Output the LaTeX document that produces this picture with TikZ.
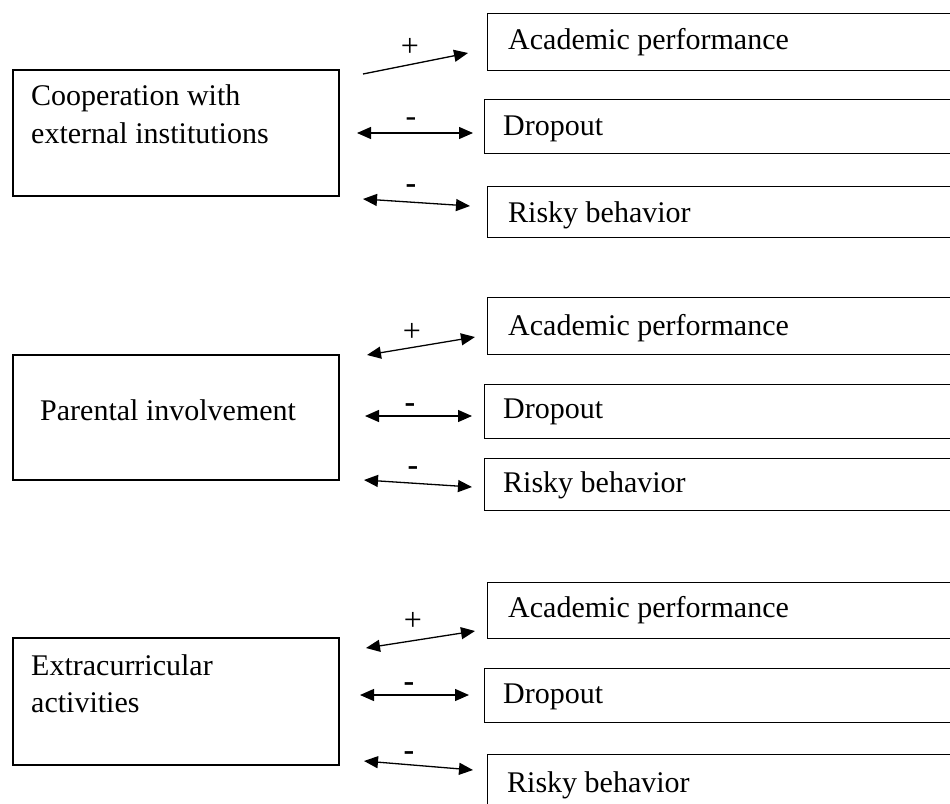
\documentclass[tikz,border=0pt]{standalone}
\usepackage{fontspec}
\setmainfont{Liberation Serif}
\usetikzlibrary{arrows.meta}
\begin{document}
\begin{tikzpicture}[x=1pt,y=-1pt,
  font=\fontsize{30}{38}\selectfont,
  lbox/.style={draw, line width=1.5pt, minimum width=326pt, minimum height=#1, anchor=north west, inner sep=0pt},
  rbox/.style={draw, line width=1.3pt, minimum width=480pt, minimum height=#1, anchor=north west, inner sep=0pt},
  txt/.style={anchor=base west, inner sep=0pt},
  sgn/.style={inner sep=0pt, font=\fontsize{32}{34}\selectfont},
  link/.style={line width=1.3pt, {Triangle[length=14pt,width=12pt]}-{Triangle[length=14pt,width=12pt]}},
  onelink/.style={line width=1.3pt, -{Triangle[length=14pt,width=12pt]}}
]
\useasboundingbox (0,0) rectangle (950,803);
\clip (0,0) rectangle (950,803);

% ---------- group 1 ----------
\node[lbox=126pt] (L1) at (12,69) {};
\node[txt] (L1a) at (31,105) {Cooperation with};
\node[txt] (L1b) at (31,143) {external institutions};

\node[rbox=57pt] (A1) at (487,13) {};
\node[txt] (A1t) at (508,49) {Academic performance};
\node[rbox=54pt] (D1) at (484,99) {};
\node[txt] (D1t) at (503,135) {Dropout};
\node[rbox=51pt] (R1) at (487,186) {};
\node[txt] (R1t) at (508,222) {Risky behavior};

\coordinate (a1s) at (363,74);  \coordinate (a1e) at (468,53);
\coordinate (d1s) at (357,133); \coordinate (d1e) at (473,133);
\coordinate (r1s) at (363,199); \coordinate (r1e) at (470,206);
\draw[onelink] (a1s) -- (a1e);
\draw[link] (d1s) -- (d1e);
\draw[link] (r1s) -- (r1e);
\node[sgn] (pa1) at (410,47) {+};
\node[sgn] (md1) at (411,122) {-};
\node[sgn] (mr1) at (411,189) {\textbf{-}};

% ---------- group 2 ----------
\node[lbox=125pt] (L2) at (12,354) {};
\node[txt] (L2a) at (40,420) {Parental involvement};

\node[rbox=57pt] (A2) at (487,297) {};
\node[txt] (A2t) at (508,335) {Academic performance};
\node[rbox=54pt] (D2) at (484,384) {};
\node[txt] (D2t) at (503,418) {Dropout};
\node[rbox=52pt] (R2) at (484,458) {};
\node[txt] (R2t) at (503,492) {Risky behavior};

\coordinate (a2s) at (367,355); \coordinate (a2e) at (475,337);
\coordinate (d2s) at (365,416); \coordinate (d2e) at (472,416);
\coordinate (r2s) at (364,480); \coordinate (r2e) at (472,487);
\draw[link] (a2s) -- (a2e);
\draw[link] (d2s) -- (d2e);
\draw[link] (r2s) -- (r2e);
\node[sgn] (pa2) at (412,332) {+};
\node[sgn] (md2) at (410,408) {\textbf{-}};
\node[sgn] (mr2) at (413,471) {\textbf{-}};

% ---------- group 3 ----------
\node[lbox=127pt] (L3) at (12,637) {};
\node[txt] (L3a) at (31,675) {Extracurricular};
\node[txt] (L3b) at (31,712) {activities};

\node[rbox=56pt] (A3) at (487,582) {};
\node[txt] (A3t) at (508,617) {Academic performance};
\node[rbox=54pt] (D3) at (484,668) {};
\node[txt] (D3t) at (503,703) {Dropout};
\node[rbox=60pt] (R3) at (487,754) {};
\node[txt] (R3t) at (507,792) {Risky behavior};

\coordinate (a3s) at (366,648); \coordinate (a3e) at (475,631);
\coordinate (d3s) at (360,695); \coordinate (d3e) at (469,695);
\coordinate (r3s) at (364,761); \coordinate (r3e) at (473,770);
\draw[link] (a3s) -- (a3e);
\draw[link] (d3s) -- (d3e);
\draw[link] (r3s) -- (r3e);
\node[sgn] (pa3) at (413,621) {+};
\node[sgn] (md3) at (409,687) {\textbf{-}};
\node[sgn] (mr3) at (409,756) {\textbf{-}};
\end{tikzpicture}
\end{document}
